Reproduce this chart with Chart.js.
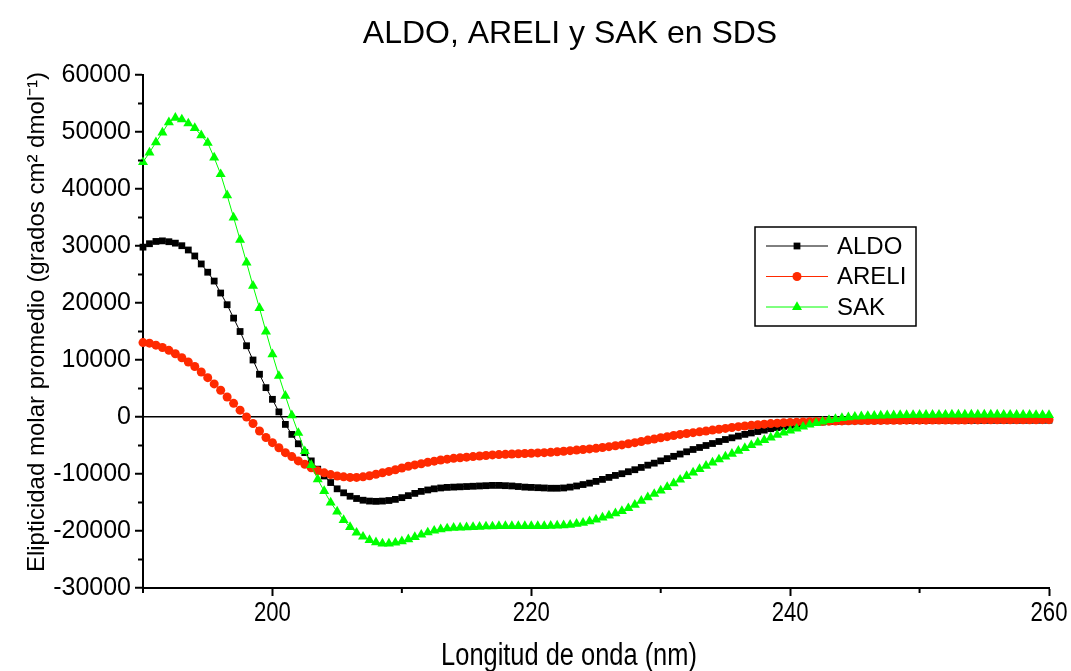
<!DOCTYPE html>
<html>
<head>
<meta charset="utf-8">
<title>ALDO, ARELI y SAK en SDS</title>
<script src="https://cdn.jsdelivr.net/npm/chart.js@4.4.1/dist/chart.umd.min.js"></script>
<style>
  html, body { margin: 0; padding: 0; background: #fff; }
  #chart { display: block; }
</style>
</head>
<body>
<canvas id="chart" width="1071" height="671"></canvas>
<script>
// longitud de onda (nm), cada 0.5 nm
var wavelengths = [
  190, 190.5, 191, 191.5, 192, 192.5, 193, 193.5, 194, 194.5,
  195, 195.5, 196, 196.5, 197, 197.5, 198, 198.5, 199, 199.5,
  200, 200.5, 201, 201.5, 202, 202.5, 203, 203.5, 204, 204.5,
  205, 205.5, 206, 206.5, 207, 207.5, 208, 208.5, 209, 209.5,
  210, 210.5, 211, 211.5, 212, 212.5, 213, 213.5, 214, 214.5,
  215, 215.5, 216, 216.5, 217, 217.5, 218, 218.5, 219, 219.5,
  220, 220.5, 221, 221.5, 222, 222.5, 223, 223.5, 224, 224.5,
  225, 225.5, 226, 226.5, 227, 227.5, 228, 228.5, 229, 229.5,
  230, 230.5, 231, 231.5, 232, 232.5, 233, 233.5, 234, 234.5,
  235, 235.5, 236, 236.5, 237, 237.5, 238, 238.5, 239, 239.5,
  240, 240.5, 241, 241.5, 242, 242.5, 243, 243.5, 244, 244.5,
  245, 245.5, 246, 246.5, 247, 247.5, 248, 248.5, 249, 249.5,
  250, 250.5, 251, 251.5, 252, 252.5, 253, 253.5, 254, 254.5,
  255, 255.5, 256, 256.5, 257, 257.5, 258, 258.5, 259, 259.5,
  260
];

var aldo = [
  29800, 30400, 30800, 30900, 30750, 30500, 30050, 29300, 28250, 26850,
  25400, 23850, 21750, 19700, 17350, 15000, 12500, 10000, 7500, 5150,
  3100, 900, -1300, -3050, -4700, -6250, -7700, -9150, -10350, -11500,
  -12600, -13300, -13900, -14300, -14600, -14750, -14800, -14750, -14650, -14450,
  -14150, -13800, -13400, -13050, -12800, -12600, -12450, -12350, -12300, -12250,
  -12200, -12150, -12100, -12050, -12000, -12000, -12050, -12100, -12200, -12300,
  -12350, -12400, -12450, -12500, -12500, -12450, -12300, -12100, -11850, -11600,
  -11300, -10950, -10600, -10250, -9950, -9600, -9250, -8850, -8450, -8100,
  -7700, -7300, -6900, -6500, -6100, -5700, -5350, -5000, -4650, -4300,
  -3950, -3650, -3350, -3050, -2800, -2550, -2300, -2050, -1850, -1650,
  -1450, -1300, -1150, -1050, -950, -880, -820, -770, -730, -700,
  -680, -670, -660, -650, -650, -640, -640, -630, -630, -620,
  -620, -620, -610, -610, -600, -600, -600, -600, -590, -590,
  -590, -580, -580, -580, -580, -570, -570, -570, -560, -560,
  -560
];

var areli = [
  13050, 12950, 12600, 12200, 11700, 11100, 10400, 9650, 8850, 7900,
  6900, 5800, 4700, 3500, 2400, 1200, 0, -1150, -2450, -3600,
  -4500, -5400, -6250, -6950, -7700, -8300, -8900, -9450, -9800, -10100,
  -10350, -10500, -10600, -10600, -10500, -10300, -10050, -9800, -9550, -9250,
  -8950, -8650, -8400, -8200, -7950, -7750, -7550, -7400, -7250, -7150,
  -7050, -6950, -6850, -6750, -6650, -6600, -6550, -6500, -6450, -6400,
  -6350, -6300, -6250, -6200, -6100, -6000, -5900, -5800, -5700, -5600,
  -5500, -5350, -5200, -5050, -4900, -4700, -4500, -4300, -4050, -3850,
  -3650, -3450, -3250, -3050, -2900, -2750, -2600, -2450, -2300, -2150,
  -2000, -1850, -1700, -1580, -1460, -1350, -1250, -1160, -1080, -1010,
  -950, -900, -860, -820, -790, -760, -730, -700, -680, -660,
  -640, -630, -620, -610, -600, -590, -580, -570, -560, -560,
  -550, -550, -540, -540, -530, -530, -520, -520, -510, -510,
  -500, -500, -500, -490, -490, -490, -480, -480, -480, -470,
  -470
];

var sak = [
  44700, 46400, 48200, 49900, 51700, 52500, 52200, 51500, 50700, 49400,
  48100, 45500, 42600, 38900, 35000, 31100, 27100, 23000, 19100, 15000,
  11000, 7200, 3700, 300, -2800, -6000, -8450, -10950, -13000, -15000,
  -16600, -18100, -19300, -20300, -21000, -21600, -22000, -22200, -22200, -22050,
  -21800, -21450, -21050, -20650, -20250, -19950, -19700, -19550, -19450, -19400,
  -19350, -19300, -19250, -19200, -19200, -19150, -19150, -19150, -19150, -19150,
  -19150, -19150, -19150, -19100, -19050, -19000, -18900, -18750, -18550, -18300,
  -18000, -17650, -17300, -16900, -16500, -16000, -15400, -14700, -14100, -13500,
  -12900, -12300, -11650, -11000, -10350, -9750, -9150, -8550, -8000, -7450,
  -6950, -6450, -5950, -5450, -4950, -4500, -4050, -3600, -3150, -2750,
  -2400, -2050, -1700, -1350, -1050, -800, -550, -350, -200, -50,
  50, 120, 180, 220, 260, 290, 310, 330, 350, 360,
  370, 380, 390, 400, 400, 410, 410, 420, 420, 420,
  420, 410, 410, 400, 400, 390, 380, 370, 360, 350,
  340
];

var xTicks = [200, 220, 240, 260];
var xMinor = [190, 210, 230, 250];
var yTicks = [-30000, -20000, -10000, 0, 10000, 20000, 30000, 40000, 50000, 60000];
var yMinor = [-25000, -15000, -5000, 5000, 15000, 25000, 35000, 45000, 55000];

var seriesNames = ['ALDO', 'ARELI', 'SAK'];
var chartTitle = 'ALDO, ARELI y SAK en SDS';
var xTitle = 'Longitud de onda (nm)';
var yTitle = 'Elipticidad molar promedio (grados cm\u00B2 dmol\u207B\u00B9)';

var sans = '"Liberation Sans", Arial, sans-serif';

function pts(vals) {
  return vals.map(function(v, i) { return { x: wavelengths[i], y: v }; });
}

// texto angosto (como Arial Narrow) escalando en x
function narrowText(ctx, text, x, y, size) {
  ctx.save();
  ctx.translate(x, y);
  ctx.scale(0.82, 1);
  ctx.font = size + 'px ' + sans;
  ctx.fillText(text, 0, 0);
  ctx.restore();
}

// marcas menores, titulos, etiquetas del eje x y leyenda
var extras = {
  id: 'extras',
  afterDraw: function(chart) {
    var ctx = chart.ctx;
    var xs = chart.scales.x, ys = chart.scales.y;
    var area = chart.chartArea;
    ctx.save();
    ctx.strokeStyle = '#000';
    ctx.lineWidth = 2;
    ctx.beginPath();
    xMinor.forEach(function(v) {
      var px = xs.getPixelForValue(v);
      ctx.moveTo(px, area.bottom);
      ctx.lineTo(px, area.bottom + 5);
    });
    yMinor.forEach(function(v) {
      var py = ys.getPixelForValue(v);
      ctx.moveTo(area.left, py);
      ctx.lineTo(area.left - 5, py);
    });
    ctx.stroke();

    ctx.fillStyle = '#000';
    ctx.textAlign = 'center';
    ctx.textBaseline = 'alphabetic';
    ctx.font = '32px ' + sans;
    ctx.fillText(chartTitle, 570, 43);

    xTicks.forEach(function(v) {
      narrowText(ctx, String(v), xs.getPixelForValue(v), area.bottom + 33, 27);
    });
    narrowText(ctx, xTitle, 569, 665, 31);

    ctx.save();
    ctx.translate(37, 322);
    ctx.rotate(-Math.PI / 2);
    ctx.textBaseline = 'middle';
    ctx.font = '24px ' + sans;
    ctx.fillText(yTitle, 0, 0);
    ctx.restore();

    // leyenda
    ctx.lineWidth = 1.5;
    ctx.strokeRect(755, 227, 161, 99);
    chart.data.datasets.forEach(function(ds, i) {
      var y = 246 + i * 30.5;
      ctx.strokeStyle = ds.borderColor;
      ctx.lineWidth = 1;
      ctx.beginPath();
      ctx.moveTo(766, y);
      ctx.lineTo(828, y);
      ctx.stroke();
      ctx.fillStyle = ds.pointBackgroundColor;
      Chart.helpers.drawPoint(ctx, { pointStyle: ds.pointStyle, radius: ds.pointRadius, rotation: 0, borderWidth: 0 }, 797, y);
      ctx.fillStyle = '#000';
      ctx.textAlign = 'left';
      ctx.textBaseline = 'middle';
      ctx.font = '24px ' + sans;
      ctx.fillText(ds.label, 837, y + 1);
    });
    ctx.restore();
  }
};

var ctx = document.getElementById('chart').getContext('2d');
var myChart = new Chart(ctx, {
  type: 'line',
  data: {
    datasets: [{
      label: seriesNames[0],
      data: pts(aldo),
      borderColor: '#000000',
      backgroundColor: '#000000',
      pointBackgroundColor: '#000000',
      pointStyle: 'rect',
      pointRadius: 4.8,
      order: 3
    }, {
      label: seriesNames[1],
      data: pts(areli),
      borderColor: '#ff2a00',
      backgroundColor: '#ff2a00',
      pointBackgroundColor: '#ff2a00',
      pointStyle: 'circle',
      pointRadius: 4.5,
      order: 2
    }, {
      label: seriesNames[2],
      data: pts(sak),
      borderColor: '#00ff00',
      backgroundColor: '#00ff00',
      pointBackgroundColor: '#00ff00',
      pointStyle: 'triangle',
      pointRadius: 5.8,
      order: 1
    }]
  },
  options: {
    responsive: false,
    animation: false,
    devicePixelRatio: 1,
    clip: false,
    datasets: {
      line: { borderWidth: 1, pointBorderWidth: 0, pointHoverRadius: 5, tension: 0, fill: false }
    },
    layout: { padding: { left: 0, right: 22, top: 75, bottom: 0 } },
    plugins: {
      legend: { display: false },
      title: { display: false },
      tooltip: { enabled: false }
    },
    scales: {
      x: {
        type: 'linear',
        min: 190,
        max: 260,
        afterBuildTicks: function(s) { s.ticks = xTicks.map(function(v) { return { value: v }; }); },
        afterFit: function(s) { s.height = 83; },
        border: { color: '#000', width: 2 },
        grid: { drawOnChartArea: false, tickColor: '#000', tickLength: 8, tickWidth: 2 },
        ticks: { display: false }
      },
      y: {
        type: 'linear',
        min: -30000,
        max: 60000,
        afterBuildTicks: function(s) { s.ticks = yTicks.map(function(v) { return { value: v }; }); },
        afterFit: function(s) { s.width = 143; },
        border: { color: '#000', width: 2 },
        grid: {
          color: function(c) { return c.tick && c.tick.value === 0 ? '#000' : 'rgba(0,0,0,0)'; },
          lineWidth: 1.5,
          tickColor: '#000',
          tickLength: 8,
          tickWidth: 2
        },
        ticks: {
          color: '#000',
          font: { family: sans, size: 25 },
          padding: 4,
          autoSkip: false,
          callback: function(v) { return String(v); }
        }
      }
    }
  },
  plugins: [extras]
});
</script>
</body>
</html>
